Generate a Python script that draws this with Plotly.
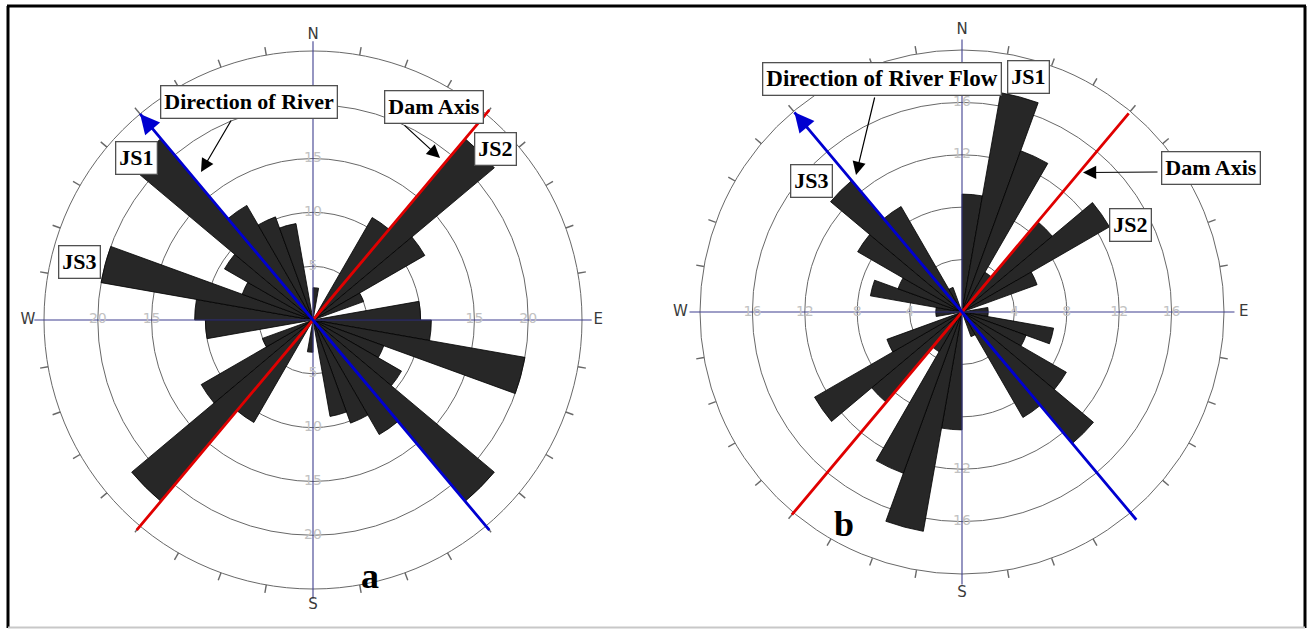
import math
import plotly.graph_objects as go

W, H = 1308, 629

# ---- data -------------------------------------------------------------
# Bidirectional rose diagrams: joint counts per 10-degree strike bin (0-180),
# the 180-360 half mirrors the first half.
bin_start_deg = list(range(0, 180, 10))
freq_a = [3, 0, 0, 11, 22, 12, 5, 0, 10, 11, 20, 7, 9.5, 22, 12.3, 10.2, 9.1, 0]
freq_b = [9, 17, 13.1, 3.5, 9, 13, 6.1, 0, 2, 2, 7.1, 5.2, 9.2, 13.1, 9.3, 2, 0, 0]

ring_vals_a = [5, 10, 15, 20]
ring_vals_b = [4, 8, 12, 16]
outer_a = 25
outer_b = 20

# river flow direction (arrow end) and dam axis azimuths, degrees
river_a, dam_a = 320, 40
river_b, dam_b = 320, 40
# line lengths (radial units) at [back end, front end]
river_len_a = [25.5, 25.0]
dam_len_a = [25.5, 25.5]
river_len_b = [20.7, 19.9]
dam_len_b = [20.2, 19.8]

compass = ["N", "E", "S", "W"]
compass_deg = [0, 90, 180, 270]

# ---- geometry of the two panels (pixels) ----------------------------
geo = {
    "polar": dict(cx=313, cy=320, ppu=10.76, rmax=27.5, outer=outer_a),
    "polar2": dict(cx=962, cy=312, ppu=13.1, rmax=22.5, outer=outer_b),
}


def px(x):
    return x / W


def py(y):
    return 1 - y / H


def domain(g):
    rad = g["ppu"] * g["rmax"]
    return dict(x=[px(g["cx"] - rad), px(g["cx"] + rad)],
                y=[py(g["cy"] + rad), py(g["cy"] - rad)])


def polar_to_px(g, r, az):
    """Pixel position of (r, azimuth) inside a panel."""
    a = math.radians(az)
    return g["cx"] + r * g["ppu"] * math.sin(a), g["cy"] - r * g["ppu"] * math.cos(a)


RING = "#686868"
NAVY = "#3f3f8f"
LABEL_GREY = "#c2c2c2"
BLUE = "#0000d0"
RED = "#e00000"

fig = go.Figure()


def add_rose(sp, freq, outer, tick_len, axis_len, compass_r,
             radial_labels, river, river_len, dam, dam_len):
    centers = [b + 5 for b in bin_start_deg] + [b + 185 for b in bin_start_deg]
    values = freq + freq

    # outer ring ticks every 10 degrees
    tr, tt = [], []
    for a in range(10, 360, 10):
        if a % 90 == 0:
            continue
        tr += [outer, outer + tick_len, None]
        tt += [a, a, None]
    fig.add_trace(go.Scatterpolar(r=tr, theta=tt, mode="lines", subplot=sp,
                                  line=dict(color=RING, width=1.4),
                                  hoverinfo="skip", showlegend=False))

    # N-S and W-E axis lines
    fig.add_trace(go.Scatterpolar(
        r=[axis_len, 0, axis_len, None, axis_len, 0, axis_len],
        theta=[0, 0, 180, None, 90, 90, 270], mode="lines", subplot=sp,
        line=dict(color=NAVY, width=1.1), hoverinfo="skip", showlegend=False))

    # compass letters
    fig.add_trace(go.Scatterpolar(
        r=[compass_r] * 4, theta=compass_deg, text=compass, mode="text",
        subplot=sp, cliponaxis=False,
        textfont=dict(family="DejaVu Sans", size=15, color="#3a3a3a"),
        hoverinfo="skip", showlegend=False))

    # ring value labels along the axes
    lr = [v for v, _ in radial_labels]
    lt = [t for _, t in radial_labels]
    fig.add_trace(go.Scatterpolar(
        r=lr, theta=lt, text=[str(v) for v in lr], mode="text", subplot=sp,
        textfont=dict(family="DejaVu Sans", size=14, color=LABEL_GREY),
        hoverinfo="skip", showlegend=False))

    # rose petals
    fig.add_trace(go.Barpolar(
        r=values, theta=centers, width=[10] * len(values), subplot=sp,
        marker=dict(color="#272727", line=dict(color="#000000", width=0.8)),
        hoverinfo="skip", showlegend=False))

    # dam axis (red) and river direction (blue)
    fig.add_trace(go.Scatterpolar(
        r=[dam_len[0], 0, dam_len[1]], theta=[dam + 180, dam, dam],
        mode="lines", subplot=sp, line=dict(color=RED, width=2.8),
        hoverinfo="skip", showlegend=False))
    fig.add_trace(go.Scatterpolar(
        r=[river_len[0], 0, river_len[1]], theta=[river - 180, river, river],
        mode="lines", subplot=sp, line=dict(color=BLUE, width=2.8),
        hoverinfo="skip", showlegend=False))


labels_a = ([(v, 0) for v in [5, 10, 15]] + [(v, 90) for v in [15, 20]]
            + [(v, 180) for v in ring_vals_a] + [(v, 270) for v in [15, 20]])
labels_b = ([(v, 0) for v in [12, 16]] + [(v, 90) for v in ring_vals_b]
            + [(v, 180) for v in [12, 16]] + [(v, 270) for v in ring_vals_b])

add_rose("polar", freq_a, outer_a, 0.75, 25.9, 26.5, labels_a,
         river_a, river_len_a, dam_a, dam_len_a)
add_rose("polar2", freq_b, outer_b, 0.6, 20.8, 21.5, labels_b,
         river_b, river_len_b, dam_b, dam_len_b)


def polar_layout(g, ring_vals):
    return dict(
        domain=domain(g),
        bgcolor="rgba(0,0,0,0)",
        radialaxis=dict(range=[0, g["rmax"]], tickvals=ring_vals + [g["outer"]],
                        showticklabels=False, ticks="", showline=False,
                        gridcolor=RING, gridwidth=1.4),
        angularaxis=dict(rotation=90, direction="clockwise", showgrid=False,
                         showline=False, showticklabels=False, ticks=""),
    )


# ---- callout boxes and arrows -----------------------------------------
boxes = [
    ("Direction of River", 249, 102, 22),
    ("Dam Axis", 434, 107.5, 22),
    ("JS2", 495, 149, 22),
    ("JS1", 136, 158, 22),
    ("JS3", 79.5, 262, 22),
    ("Direction of River Flow", 882, 79, 23),
    ("JS1", 1028, 77, 22),
    ("Dam Axis", 1210.5, 167.5, 22),
    ("JS2", 1130, 225, 22),
    ("JS3", 811.5, 180.5, 22),
]
# (tail x, tail y, head x, head y) in pixels
arrows = [
    (232, 119, 201, 172),
    (403, 124, 440, 158),
    (875, 96, 856, 175),
    (1159, 172, 1083, 172.5),
]

annotations = []
for txt, x, y, fs in boxes:
    annotations.append(dict(
        text="<b>%s</b>" % txt, x=px(x), y=py(y), xref="paper", yref="paper",
        xanchor="center", yanchor="middle", showarrow=False,
        font=dict(family="Liberation Serif", size=fs, color="#000000"),
        bgcolor="#ffffff", bordercolor="#505050", borderwidth=1.3, borderpad=3))
for tx, ty, hx, hy in arrows:
    annotations.append(dict(
        text="", x=px(hx), y=py(hy), xref="paper", yref="paper",
        ax=tx - hx, ay=ty - hy, showarrow=True, arrowhead=2, arrowsize=2.2,
        arrowwidth=1.2, arrowcolor="#000000"))

# arrowheads at the river-flow end of the blue lines
for sp, river, river_len in [("polar", river_a, river_len_a),
                             ("polar2", river_b, river_len_b)]:
    g = geo[sp]
    hx, hy = polar_to_px(g, river_len[1], river)
    tx, ty = polar_to_px(g, river_len[1] - 22 / g["ppu"], river)
    annotations.append(dict(
        text="", x=px(hx), y=py(hy), xref="paper", yref="paper",
        ax=tx - hx, ay=ty - hy, showarrow=True, arrowhead=2, arrowsize=1.5,
        arrowwidth=2.6, arrowcolor=BLUE))

for txt, x, y in [("a", 370, 576), ("b", 844, 524)]:
    annotations.append(dict(
        text="<b>%s</b>" % txt, x=px(x), y=py(y), xref="paper", yref="paper",
        xanchor="center", yanchor="middle", showarrow=False,
        font=dict(family="Liberation Serif", size=36, color="#000000")))

# page frame
shapes = [
    dict(type="line", xref="paper", yref="paper", x0=px(7), x1=px(1306),
         y0=py(6), y1=py(6), line=dict(color="#000000", width=3)),
    dict(type="line", xref="paper", yref="paper", x0=px(8), x1=px(8),
         y0=py(6), y1=py(628), line=dict(color="#000000", width=3)),
    dict(type="line", xref="paper", yref="paper", x0=px(1305), x1=px(1305),
         y0=py(6), y1=py(628), line=dict(color="#000000", width=3)),
    dict(type="line", xref="paper", yref="paper", x0=px(8), x1=px(1305),
         y0=py(627.5), y1=py(627.5), line=dict(color="#c8c8c8", width=2)),
]

fig.update_layout(
    width=W, height=H, margin=dict(l=0, r=0, t=0, b=0),
    paper_bgcolor="#ffffff", plot_bgcolor="#ffffff",
    showlegend=False, hovermode=False,
    polar=polar_layout(geo["polar"], ring_vals_a),
    polar2=polar_layout(geo["polar2"], ring_vals_b),
    annotations=annotations, shapes=shapes,
)

fig.write_html("out.html")
